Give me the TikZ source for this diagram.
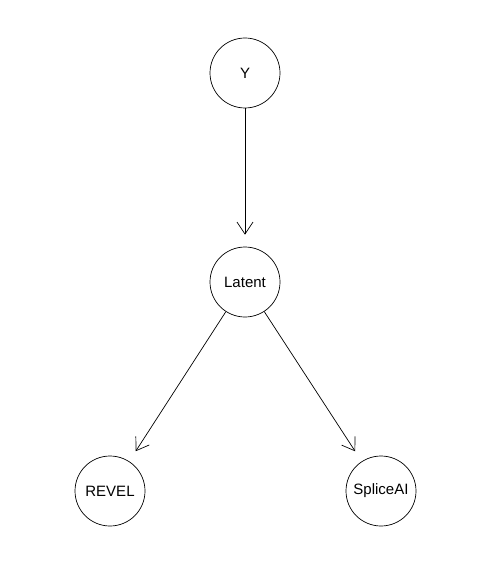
\documentclass[tikz,border=0pt]{standalone}
\usepackage{fontspec}
\setmainfont{Liberation Sans}
\usetikzlibrary{arrows.meta}

\begin{document}
\begin{tikzpicture}[x=1pt, y=-1pt,
    var/.style={draw, circle, minimum size=70pt, inner sep=0pt, line width=0.7pt, font=\fontsize{15}{18}\selectfont},
    edge/.style={-{Straight Barb[length=12pt, width=16pt, line width=0.7pt]}, line width=0.7pt, shorten >=12pt}]
\useasboundingbox (0,0) rectangle (491,564);
% variables
\node[var] (y) at (245,73) {Y};
\node[var] (latent) at (245,282) {Latent};
\node[var] (revel) at (110,491) {REVEL};
\node[var] (spliceai) at (381,491) {SpliceAI};
% edges
\draw[edge] (y) -- (latent);
\draw[edge] (latent) -- (revel);
\draw[edge] (latent) -- (spliceai);
\end{tikzpicture}
\end{document}
